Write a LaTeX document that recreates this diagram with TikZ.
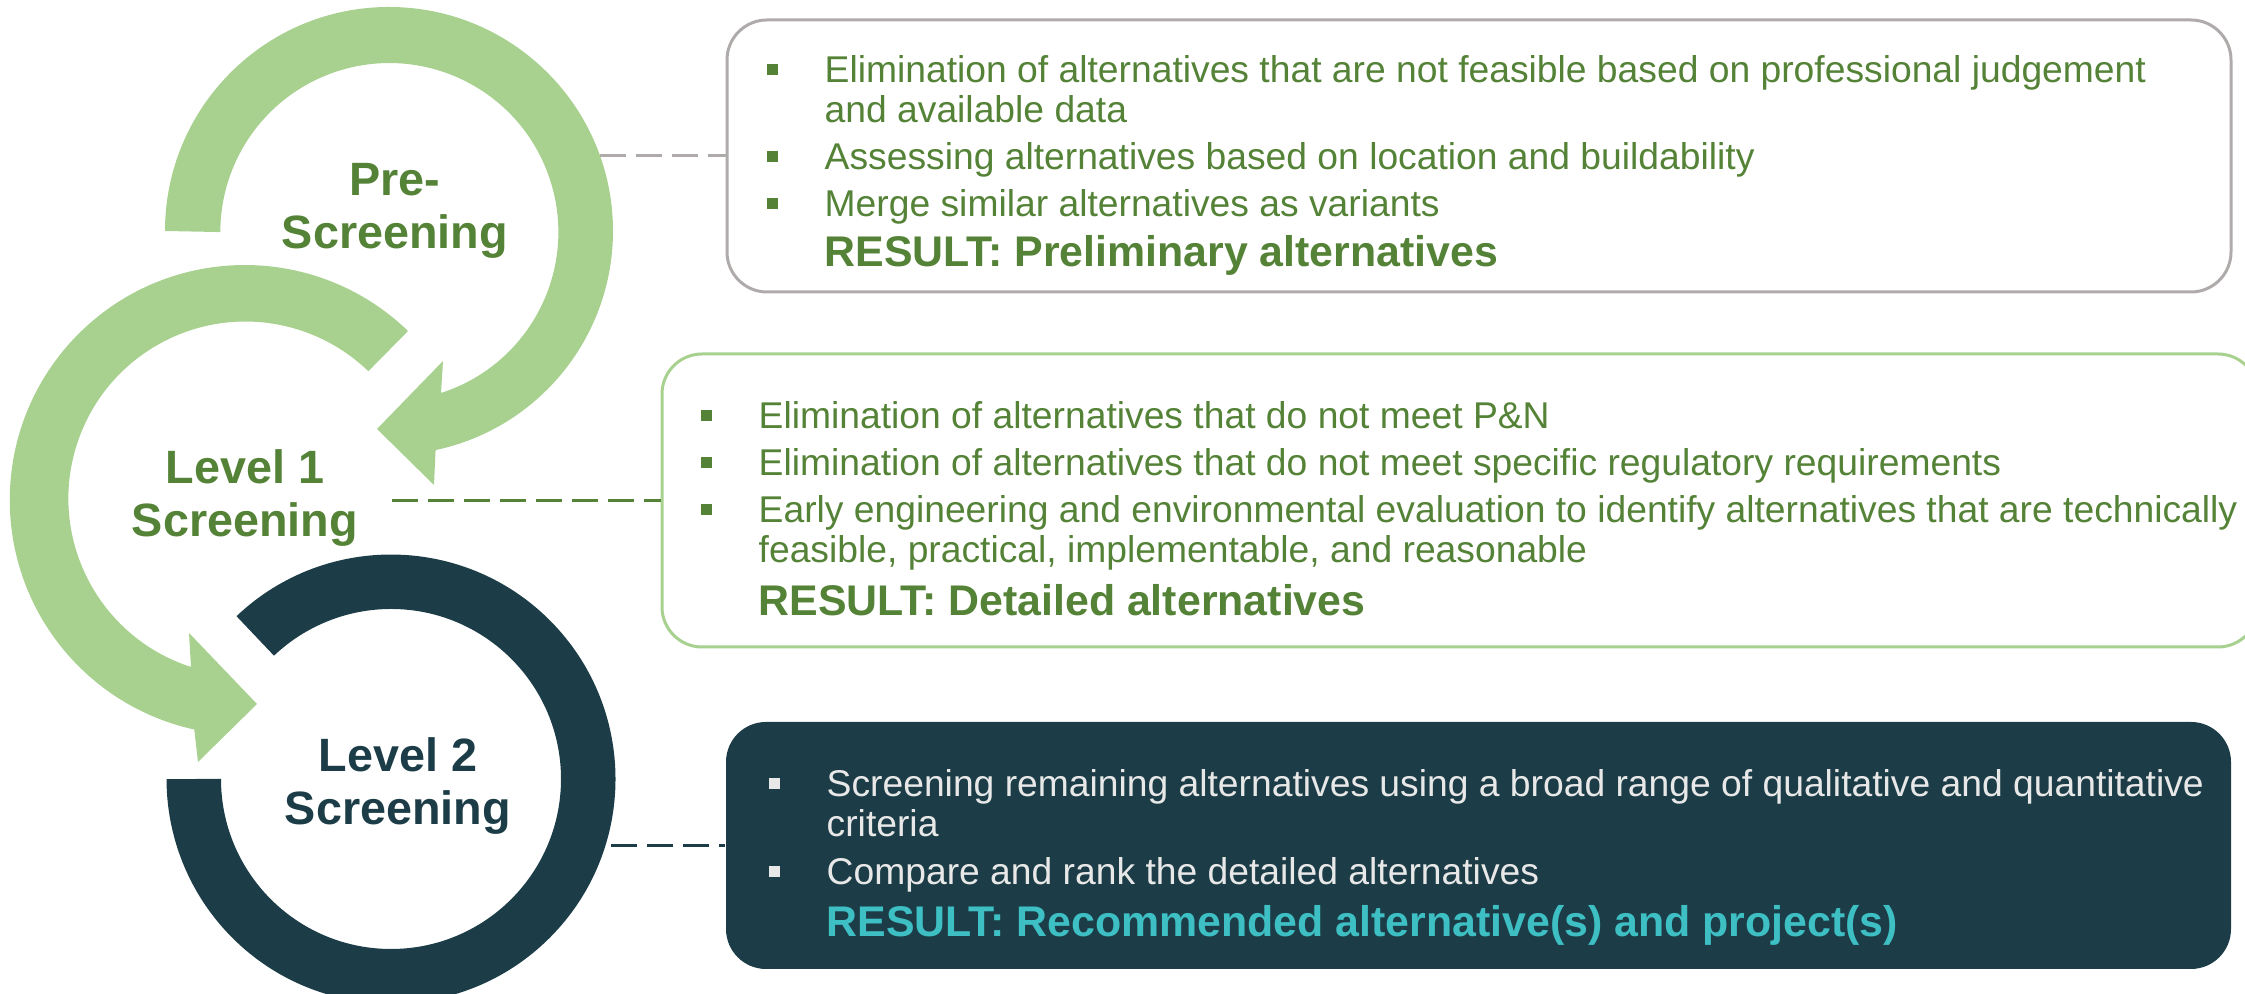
\documentclass[tikz,border=0pt]{standalone}
\usepackage{fontspec}
\setmainfont{Liberation Sans}
\usepackage{tikz}
\usetikzlibrary{positioning}
\tikzset{ringlabel/.style = {font=\fontsize{13.3}{15}\selectfont\bfseries, align=center}}
\tikzset{stepbox/.style = {rounded corners=0.4cm, line width=0.03cm}}
\tikzset{link/.style = {line width=0.03cm, dash pattern=on 0.26cm off 0.10cm}}
\tikzset{itemtext/.style = {anchor=base west, inner sep=0, align=left,
                            font=\fontsize{10.6}{11.4}\selectfont}}
\newcommand{\sqb}{\makebox[0.58cm][l]{\rule[0.08cm]{0.11cm}{0.11cm}}}
\newcommand{\ind}{\hspace*{0.58cm}}
\newcommand{\res}[1]{\ind{\fontsize{12.2}{12.5}\selectfont\bfseries #1}}
\definecolor{lgreen}{rgb}{0.66, 0.82, 0.56}
\definecolor{dgreen}{rgb}{0.33, 0.51, 0.21}
\definecolor{dteal}{rgb}{0.11, 0.24, 0.28}
\definecolor{lteal}{rgb}{0.24, 0.75, 0.77}
\definecolor{mgray}{rgb}{0.69, 0.67, 0.67}
\definecolor{lgray}{rgb}{0.91, 0.91, 0.91}

\begin{document}
\begin{tikzpicture}
      \useasboundingbox (0, 0) rectangle (22.45, 9.94);

      \fill [lgreen] (1.65, 7.63) arc(180:-78:2.24) -- (4.34, 5.09) -- (3.77, 5.65) -- (4.43, 6.33) -- (4.41, 6.01) arc(-72.2:180:1.69) -- cycle;
      \fill [lgreen] (4.08, 6.63) arc(46:257.6:2.35) -- (1.98, 2.32) -- (2.57, 2.90) -- (1.89, 3.61) -- (1.91, 3.27) arc(252.1:46:1.77) -- cycle;
      \fill [dteal] (2.365, 3.778) arc(133.5:-180:2.245) -- (2.21, 2.15) arc(-180:133.5:1.70) -- cycle;

      \node [ringlabel, text=dgreen] (pre) at (3.95, 7.83) {Pre-\\Screening};
      \node [ringlabel, text=dgreen] (lvl1) at (2.45, 4.96) {Level 1\\Screening};
      \node [ringlabel, text=dteal] (lvl2) at (3.98, 2.08) {Level 2\\Screening};

      \node [stepbox, draw=mgray, minimum width=15.04cm, minimum height=2.72cm] (prebox) at (14.79, 8.38) {};
      \node [stepbox, draw=lgreen, minimum width=15.96cm, minimum height=2.93cm] (onebox) at (14.60, 4.935) {};
      \node [stepbox, fill=dteal, minimum width=15.05cm, minimum height=2.47cm] (twobox) at (14.785, 1.485) {};

      \coordinate (pre-out) at (6.00, 8.38);
      \coordinate (lvl1-out) at (3.92, 4.935);
      \coordinate (lvl2-out) at (6.11, 1.485);
      \draw [link, mgray] (pre-out) -- (prebox.west);
      \draw [link, dgreen] (lvl1-out) -- (onebox.west);
      \draw [link, dteal] (lvl2-out) -- (twobox.west);

      \node [itemtext, text=dgreen] (pretext) at (7.66, 7.27) {\sqb Elimination of alternatives that are not feasible based on professional judgement\\ \ind and available data\\[0.07cm] \sqb Assessing alternatives based on location and buildability\\[0.07cm] \sqb Merge similar alternatives as variants\\[0.10cm] \res{RESULT: Preliminary alternatives}};
      \node [itemtext, text=dgreen] (onetext) at (7.00, 3.78) {\sqb Elimination of alternatives that do not meet P\&N\\[0.07cm] \sqb Elimination of alternatives that do not meet specific regulatory requirements\\[0.07cm] \sqb Early engineering and environmental evaluation to identify alternatives that are technically\\ \ind feasible, practical, implementable, and reasonable\\[0.13cm] \res{RESULT: Detailed alternatives}};
      \node [itemtext, text=lgray] (twotext) at (7.68, 0.57) {\sqb Screening remaining alternatives using a broad range of qualitative and quantitative\\ \ind criteria\\[0.08cm] \sqb Compare and rank the detailed alternatives\\[0.12cm] \res{\color{lteal}RESULT: Recommended alternative(s) and project(s)}};
\end{tikzpicture}
\end{document}
